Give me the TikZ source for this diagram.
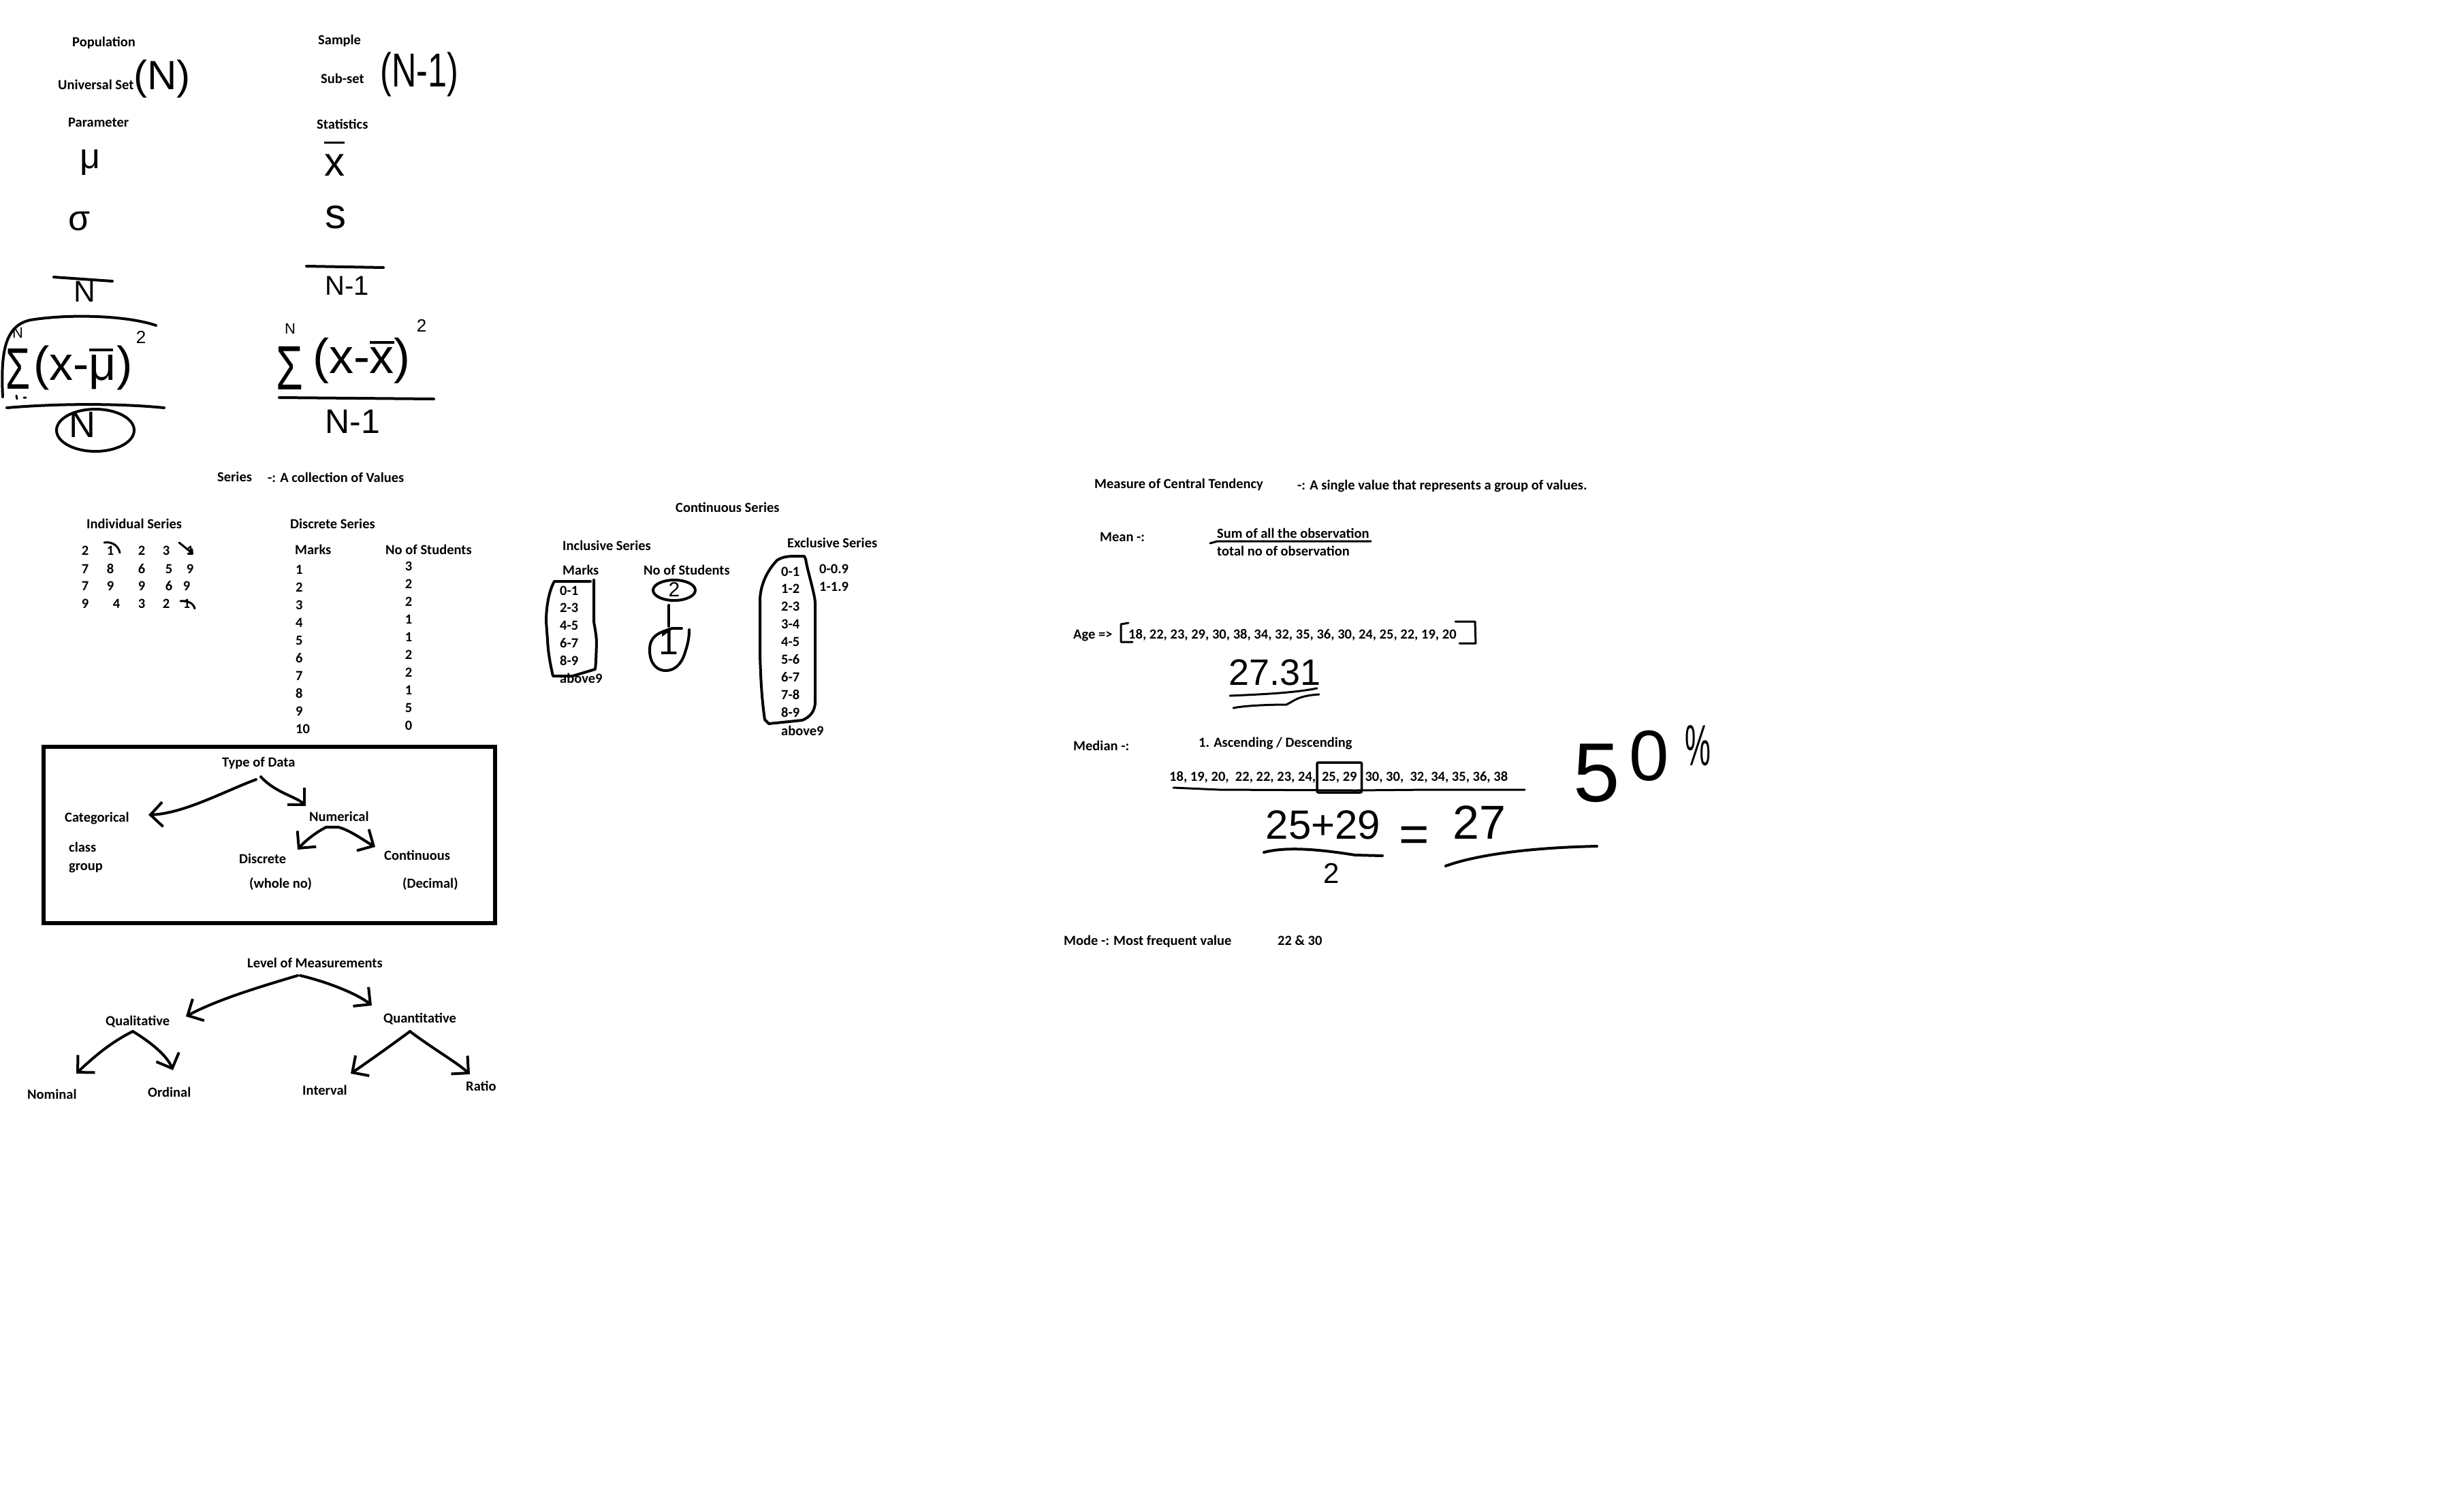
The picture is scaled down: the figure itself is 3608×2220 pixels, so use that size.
\documentclass[tikz,border=0pt]{standalone}
\usepackage{fontspec}
\setmainfont{Carlito}
\newfontfamily\hand{Liberation Sans}
\usetikzlibrary{arrows.meta}
\newcommand\hsz[1]{\fontsize{#1}{#1}\selectfont}
\newcommand\barred[2]{\rlap{\rule[#1]{0.5em}{0.06em}}#2}
\begin{document}
\begin{tikzpicture}[x=1pt,y=-1pt,
 tx/.style={font=\bfseries\hsz{20.5}, inner sep=0pt, anchor=west, text height=13pt, text depth=3pt},
 txc/.style={tx, anchor=center},
 hwf/.style={inner sep=0pt, anchor=center, font=\hand\hsz{#1}},
 pen/.style={line width=4pt, line cap=round, line join=round},
 thinpen/.style={line width=3pt, line cap=round, line join=round},
 harrow/.style={pen, -{Straight Barb[length=18pt,width=36pt,line width=4pt]}},
]
\fill[white] (0,0) rectangle (3608,2220);
\useasboundingbox (0,0) rectangle (3608,2220);

% ---------- Population / Parameter ----------
\node[tx] (pop) at (106,63) {Population};
\node[tx] (uset) at (85,126) {Universal Set};
\node[hwf=60] (npop) at (238,116) {(N)};
\node[tx] (param) at (100,181) {Parameter};
\node[hwf=52] (mu) at (132,239) {μ};
\node[hwf=52] (sig) at (117,325) {σ};
\node[hwf=44] (nb) at (124,428) {N};
\draw[pen] (79,407) -- (165,413);
\draw[pen] (4,583) .. controls (1,520) and (6,478) .. (45,470) .. controls (100,461) and (185,463) .. (229,478);
\node[hwf=86] (sumL) at (27,542) {\scalebox{0.68}[1]{Σ}};
\node[hwf=22] (sumLN) at (26,489) {N};
\draw[thinpen] (24,581) -- (25,586) (35,584) -- (38,584);
\node[hwf=70] (devL) at (122,540) {(x-\barred{0.6em}{μ})};
\node[hwf=26] (sqL) at (207,495) {2};
\draw[pen] (10,599) .. controls (80,593) and (170,592) .. (241,599);
\node[hwf=54] (nc) at (121,624) {N};
\draw[pen] (140,632) ellipse [x radius=57, y radius=31];

% ---------- Sample / Statistics ----------
\node[tx] (sample) at (467,60) {Sample};
\node[tx] (subset) at (471,117) {Sub-set};
\node[hwf=70] (nm1) at (616,109) {\scalebox{0.72}[1]{(N-1)}};
\node[tx] (stat) at (465,184) {Statistics};
\node[hwf=60] (xb) at (491,233) {\barred{0.78em}{x}};
\node[hwf=62] (ss) at (493,319) {s};
\draw[pen] (450,391) -- (563,393);
\node[hwf=40] (nm1b) at (510,420) {N-1};
\node[hwf=92] (sumR) at (425,541) {\scalebox{0.7}[1]{Σ}};
\node[hwf=22] (sumRN) at (426,483) {N};
\node[hwf=72] (devR) at (531,530) {(x-\barred{0.6em}{x})};
\node[hwf=26] (sqR) at (619,478) {2};
\draw[pen] (410,584) -- (637,586);
\node[hwf=50] (nm1c) at (518,619) {N-1};

% ---------- Series ----------
\node[tx] (series) at (319,702) {Series};
\node[tx] (coll) at (393,703) {-: A collection of Values};
\node[tx] (indiv) at (127,771) {Individual Series};
\foreach \v/\x/\y/\n in {2/125/810/i11, 1/162/810/i12, 2/208/810/i13, 3/244/810/i14, 1/279/810/i15,
  7/125/837/i21, 8/162/837/i22, 6/208/837/i23, 5/248/837/i24, 9/279/837/i25,
  7/125/862/i31, 9/162/862/i32, 9/208/862/i33, 6/248/862/i34, 9/274/862/i35,
  9/125/888/i41, 4/171/888/i42, 3/208/888/i43, 2/244/888/i44, 1/274/888/i45}
  {\node[txc] (\n) at (\x,\y) {\v};}
\draw[thinpen] (153,797) .. controls (165,795) and (174,802) .. (176,812);
\draw[thinpen,-{Straight Barb[length=5pt,width=10pt]}] (263,797) -- (284,814);
\draw[thinpen] (265,883) .. controls (276,882) and (284,886) .. (286,894);

\node[tx] (disc) at (426,771) {Discrete Series};
\node[tx] (dmarks) at (433,809) {Marks};
\node[tx] (dnos) at (566,809) {No of Students};
\foreach \m/\s [count=\k from 0] in {1/3,2/2,3/2,4/1,5/1,6/2,7/2,8/1,9/5,10/0} {
  \node[tx] (dm\k) at (434,838+26*\k) {\m};
  \node[txc] (ds\k) at (600,833+26*\k) {\s};
}

\node[tx] (cont) at (992,747) {Continuous Series};
\node[tx] (incl) at (826,803) {Inclusive Series};
\node[tx] (imarks) at (826,839) {Marks};
\node[tx] (inos) at (945,839) {No of Students};
\foreach \r [count=\k from 0] in {0-1,2-3,4-5,6-7,8-9}
  {\node[tx] (ir\k) at (822,869+25.8*\k) {\r};}
\node[tx] (iab) at (822,998) {above9};
\draw[pen] (872,852) -- (872,913) .. controls (874,925) and (876,935) .. (876,945) -- (875,973) -- (874,983) -- (841,993) -- (812,993) .. controls (808,975) and (805,960) .. (804,940) -- (802,913) .. controls (802,895) and (805,870) .. (814,854) -- (867,854);
\node[hwf=30] (two) at (990,866) {2};
\draw[pen] (990,867) ellipse [x radius=31, y radius=15];
\node[hwf=52] (one) at (982,944) {1};
\draw[pen] (982,889) -- (982,920);
\draw[pen] (1001,923) -- (987,923) .. controls (965,930) and (954,935) .. (954,955) .. controls (954,975) and (965,985) .. (977,985) .. controls (995,985) and (1003,970) .. (1007,955) .. controls (1012,940) and (1012,930) .. (1012,925);

\node[tx] (excl) at (1156,799) {Exclusive Series};
\foreach \r [count=\k from 0] in {0-1,1-2,2-3,3-4,4-5,5-6,6-7,7-8,8-9}
  {\node[tx] (er\k) at (1147,841+25.9*\k) {\r};}
\node[tx] (eab) at (1147,1075) {above9};
\node[tx] (e09) at (1203,837) {0-0.9};
\node[tx] (e19) at (1203,863) {1-1.9};
\draw[pen] (1141,823) .. controls (1150,817) and (1160,817) .. (1170,817) -- (1181,817) -- (1183,821) .. controls (1186,840) and (1196,870) .. (1197,885) -- (1197,1033) .. controls (1196,1045) and (1190,1053) .. (1178,1058) -- (1129,1063) -- (1123,1057) .. controls (1119,1030) and (1117,1000) .. (1116,960) -- (1116,880) .. controls (1117,860) and (1125,840) .. (1141,823);

% ---------- Type of Data ----------
\draw[line width=6pt] (64,1097) rectangle (727,1356);
\node[tx] (tod) at (326,1121) {Type of Data};
\node[tx] (cat) at (95,1202) {Categorical};
\node[tx] (cls) at (101,1246) {class};
\node[tx] (grp) at (101,1273) {group};
\node[tx] (num) at (454,1201) {Numerical};
\node[tx] (dis) at (351,1263) {Discrete};
\node[tx] (con) at (564,1258) {Continuous};
\node[tx] (whole) at (366,1299) {(whole no)};
\node[tx] (dec) at (591,1299) {(Decimal)};
\coordinate (t1) at (376,1145); \coordinate (t1e) at (218,1197);
\coordinate (t2) at (383,1141); \coordinate (t2e) at (449,1184);
\coordinate (n1) at (497,1215); \coordinate (n1e) at (437,1248);
\coordinate (n2e) at (551,1244);
\draw[harrow] (t1) .. controls (330,1162) and (270,1195) .. (t1e);
\draw[harrow] (t2) .. controls (405,1165) and (435,1170) .. (t2e);
\draw[harrow] (n1) -- (479,1215) .. controls (465,1222) and (448,1235) .. (n1e);
\draw[harrow] (n1) .. controls (515,1220) and (535,1235) .. (n2e);

% ---------- Level of Measurements ----------
\node[tx] (lom) at (363,1416) {Level of Measurements};
\node[tx] (qual) at (155,1501) {Qualitative};
\node[tx] (quan) at (563,1497) {Quantitative};
\node[tx] (nom) at (40,1609) {Nominal};
\node[tx] (ord) at (217,1606) {Ordinal};
\node[tx] (intv) at (444,1603) {Interval};
\node[tx] (rat) at (684,1597) {Ratio};
\coordinate (l1) at (437,1433); \coordinate (l1e) at (273,1493);
\coordinate (l2) at (441,1433); \coordinate (l2e) at (546,1477);
\coordinate (q1) at (195,1515); \coordinate (q1e) at (112,1577); \coordinate (q2e) at (254,1572);
\coordinate (q3) at (602,1515); \coordinate (q3e) at (515,1577); \coordinate (q4e) at (690,1578);
\draw[harrow] (l1) .. controls (380,1450) and (320,1468) .. (l1e);
\draw[harrow] (l2) .. controls (480,1442) and (525,1460) .. (l2e);
\draw[harrow] (q1) .. controls (165,1530) and (140,1550) .. (q1e);
\draw[harrow] (q1) .. controls (220,1530) and (245,1550) .. (q2e);
\draw[harrow] (q3) .. controls (575,1535) and (540,1560) .. (q3e);
\draw[harrow] (q3) .. controls (635,1540) and (670,1560) .. (q4e);

% ---------- Central tendency ----------
\node[tx] (mct) at (1607,712) {Measure of Central Tendency};
\node[tx] (mctd) at (1905,714) {-: A single value that represents a group of values.};
\node[tx] (mean) at (1615,790) {Mean -:};
\node[tx] (msum) at (1787,785) {Sum of all the observation};
\draw[thinpen] (1777,798) -- (1788,795) -- (2013,795);
\node[tx] (mtot) at (1787,811) {total no of observation};
\node[tx] (age) at (1576,933) {Age =>};
\node[tx] (agelist) at (1657,933) {18, 22, 23, 29, 30, 38, 34, 32, 35, 36, 30, 24, 25, 22, 19, 20};
\draw[thinpen] (1657,915) -- (1646,917) -- (1646,943) -- (1663,943);
\draw[thinpen] (2137,913) -- (2166,913) -- (2167,945) -- (2143,945);
\node[hwf=54] (mres) at (1872,988) {27.31};
\draw[thinpen] (1806,1022) .. controls (1850,1020) and (1900,1018) .. (1934,1011);
\draw[thinpen] (1811,1040) .. controls (1830,1036) and (1870,1035) .. (1889,1035) .. controls (1900,1030) and (1905,1022) .. (1937,1020);

\node[tx] (med) at (1576,1097) {Median -:};
\node[tx] (asc) at (1760,1092) {1. Ascending / Descending};
\node[tx] (s1) at (1717,1142) {18, 19, 20,\ \ 22, 22, 23, 24,};
\node[tx, draw, line width=3.5pt, inner xsep=7pt, inner ysep=14pt, rounded corners=2pt] (s2) at (s1.east) {25, 29};
\node[tx] (s3) at ([xshift=3pt]s2.east) {30, 30,\ \ 32, 34, 35, 36, 38};
\draw[thinpen] (1723,1157) -- (1790,1160) -- (1990,1161) -- (2100,1160) -- (2239,1160);
\node[hwf=60] (sum2) at (1943,1212) {25+29};
\draw[pen] (1856,1252) .. controls (1890,1243) and (1940,1248) .. (1990,1256) -- (2030,1257);
\node[hwf=42] (den) at (1955,1283) {2};
\node[hwf=76] (eq) at (2077,1233) {=};
\node[hwf=70] (res) at (2172,1208) {27};
\draw[pen] (2123,1272) .. controls (2170,1255) and (2250,1245) .. (2345,1243);
\node[hwf=123] (five) at (2345,1136) {5};
\node[hwf=105] (zero) at (2422,1110) {0};
\node[hwf=85] (pct) at (2493,1095) {\scalebox{0.5}[1]{\%}};

\node[tx] (mode) at (1562,1383) {Mode -: Most frequent value};
\node[tx] (modev) at (1876,1383) {22 \& 30};
\end{tikzpicture}
\end{document}
